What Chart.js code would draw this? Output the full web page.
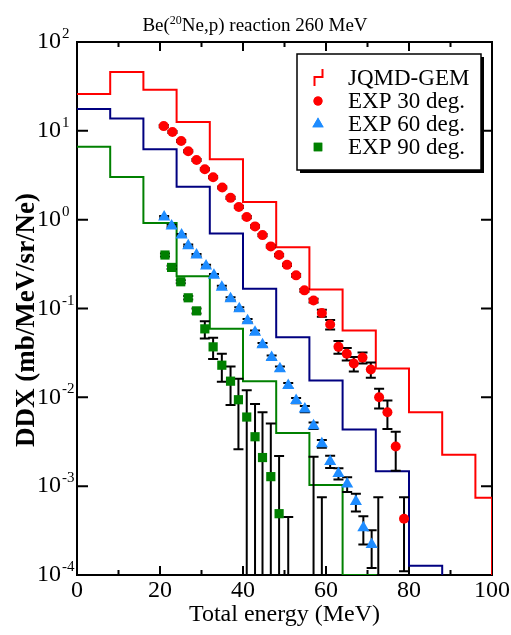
<!DOCTYPE html>
<html>
<head>
<meta charset="utf-8">
<script src="https://cdn.jsdelivr.net/npm/chart.js@4/dist/chart.umd.min.js"></script>
<style>
  body { margin: 0; background: #fff; }
</style>
</head>
<body>
<canvas id="chart" width="511" height="635"></canvas>
<script>
// JQMD-GEM calculation, 8 MeV bins (lower edge of each bin)
const binLo = [0, 8, 16, 24, 32, 40, 48, 56, 64, 72, 80, 88, 96];
const calc30 = [26, 46, 29, 12.6, 4.8, 1.58, 0.49, 0.164, 0.0566, 0.0211, 0.0068, 0.00226, 0.00074];
const calc60 = [17.6, 13.8, 6.2, 2.34, 0.70, 0.167, 0.0476, 0.0155, 0.00434, 0.00147, 0.000127];
const calc90 = [6.6, 3.03, 0.92, 0.23, 0.059, 0.0152, 0.00398, 0.00103, 0.0001];

// measured data: energy, DDX, error
const e30 = [20.9, 23.0, 25.1, 26.8, 28.8, 30.8, 32.8, 35.0, 37.0, 39.0, 40.9, 42.9, 44.7, 46.7, 48.7, 50.6, 52.8, 54.8, 57.0, 59.0, 61.0, 63.0, 65.0, 66.7, 68.8, 70.8, 72.8, 74.8, 76.8, 78.8];
const v30 = [11.3, 9.7, 7.7, 5.9, 4.7, 3.7, 3.0, 2.3, 1.76, 1.39, 1.07, 0.84, 0.67, 0.50, 0.40, 0.31, 0.236, 0.16, 0.123, 0.089, 0.066, 0.037, 0.031, 0.024, 0.028, 0.0206, 0.0100, 0.0068, 0.00279, 0.00043];
const err30 = [0.3, 0.25, 0.2, 0.15, 0.12, 0.1, 0.08, 0.06, 0.05, 0.04, 0.03, 0.025, 0.02, 0.015, 0.012, 0.01, 0.008, 0.006, 0.006, 0.008, 0.008, 0.006, 0.005, 0.0045, 0.004, 0.004, 0.0025, 0.0024, 0.0013, 0.00032];

const e60 = [21.0, 22.8, 25.2, 26.8, 28.8, 31.1, 33.0, 34.9, 37.0, 39.1, 41.1, 42.9, 44.7, 46.9, 48.9, 50.9, 52.8, 54.9, 57.0, 59.0, 61.0, 63.0, 65.1, 67.2, 69.0, 71.0, 72.6];
const v60 = [1.07, 0.85, 0.67, 0.51, 0.40, 0.30, 0.236, 0.174, 0.129, 0.0995, 0.073, 0.054, 0.039, 0.028, 0.021, 0.0136, 0.0092, 0.0074, 0.0048, 0.0030, 0.0019, 0.00139, 0.00106, 0.00067, 0.00034, 0.00022, 0.00005];
const err60 = [0.03, 0.025, 0.02, 0.015, 0.012, 0.01, 0.008, 0.006, 0.005, 0.004, 0.003, 0.0025, 0.002, 0.0015, 0.0012, 0.0009, 0.0006, 0.0006, 0.0004, 0.0003, 0.0003, 0.0002, 0.0002, 0.00015, 0.00012, 0.0001, 0.0007];

const e90 = [21.2, 22.8, 25.0, 26.8, 28.8, 30.8, 32.8, 34.9, 37.0, 38.9, 40.9, 42.9, 44.7, 46.7, 48.7, 50.9, 57.0, 59.0];
const v90 = [0.40, 0.29, 0.20, 0.132, 0.094, 0.059, 0.037, 0.023, 0.0152, 0.0094, 0.0060, 0.0036, 0.0021, 0.00128, 0.00049, 0.00005, 0.00005, 0.00005];
const err90 = [0.015, 0.012, 0.008, 0.006, 0.006, 0.013, 0.010, 0.008, 0.007, 0.0068, 0.0060, 0.0048, 0.0047, 0.0038, 0.0017, 0.0004, 0.0021, 0.0007];

// y tick labels are powers of ten
const yExp = [-4, -3, -2, -1, 0, 1, 2];

const SERIF = "'Liberation Serif', 'Times New Roman', serif";

// build a step histogram, dropping to the floor after the last bin
function hist(vals) {
  const pts = vals.map((v, i) => ({ x: binLo[i], y: v }));
  const end = Math.min(binLo[vals.length - 1] + 8, 100);
  pts.push({ x: end, y: vals[vals.length - 1] });
  pts.push({ x: end, y: 1e-6 });
  return pts;
}

function points(xs, ys) {
  return xs.map((x, i) => ({ x: x, y: ys[i] }));
}

function drawErrors(chart, xs, ys, es) {
  const { ctx, chartArea, scales } = chart;
  ctx.save();
  ctx.beginPath();
  ctx.rect(chartArea.left, chartArea.top, chartArea.width, chartArea.height);
  ctx.clip();
  ctx.strokeStyle = '#000';
  ctx.lineWidth = 2;
  xs.forEach((e, i) => {
    const px = scales.x.getPixelForValue(e);
    const hi = scales.y.getPixelForValue(ys[i] + es[i]);
    const low = ys[i] - es[i];
    const lo = low > 0 ? scales.y.getPixelForValue(low) : chartArea.bottom + 5;
    ctx.beginPath();
    ctx.moveTo(px, hi); ctx.lineTo(px, lo);
    ctx.moveTo(px - 5, hi); ctx.lineTo(px + 5, hi);
    if (low > 0) { ctx.moveTo(px - 5, lo); ctx.lineTo(px + 5, lo); }
    ctx.stroke();
  });
  ctx.restore();
}

const extras = {
  id: 'extras',
  beforeDatasetsDraw(chart) {
    const { ctx, chartArea: a, scales } = chart;
    ctx.save();
    // frame, drawn first so the histograms sit on top of it
    ctx.strokeStyle = '#000';
    ctx.lineWidth = 2;
    ctx.strokeRect(a.left, a.top, a.width, a.height);
    // x ticks, inward, top and bottom
    ctx.beginPath();
    for (let v = 0; v <= 100; v += 10) {
      const px = scales.x.getPixelForValue(v);
      const len = v % 20 === 0 ? 9 : 5;
      ctx.moveTo(px, a.bottom); ctx.lineTo(px, a.bottom - len);
      ctx.moveTo(px, a.top); ctx.lineTo(px, a.top + len);
    }
    // y ticks at decades
    yExp.forEach(p => {
      const py = scales.y.getPixelForValue(Math.pow(10, p));
      ctx.moveTo(a.left, py); ctx.lineTo(a.left + 11, py);
      ctx.moveTo(a.right, py); ctx.lineTo(a.right - 11, py);
    });
    ctx.stroke();
    ctx.restore();
  },
  beforeDatasetDraw(chart, args) {
    // error bars go under the markers
    if (args.index === 2) {
      drawErrors(chart, e30, v30, err30);
      drawErrors(chart, e60, v60, err60);
      drawErrors(chart, e90, v90, err90);
    }
  },
  afterDraw(chart) {
    const { ctx, scales } = chart;
    ctx.save();
    // y tick labels 10^n
    ctx.fillStyle = '#000';
    yExp.forEach(p => {
      const py = scales.y.getPixelForValue(Math.pow(10, p));
      ctx.font = '24px ' + SERIF;
      ctx.textAlign = 'left';
      ctx.textBaseline = 'middle';
      ctx.fillText('10', 37, py);
      const w = ctx.measureText('10').width;
      ctx.font = '15px ' + SERIF;
      ctx.textBaseline = 'alphabetic';
      ctx.fillText(String(p), 37 + w + 1, py - 4);
    });

    // y axis title
    ctx.save();
    ctx.translate(27, 320);
    ctx.rotate(-Math.PI / 2);
    ctx.font = 'bold 27px ' + SERIF;
    ctx.textAlign = 'center';
    ctx.textBaseline = 'middle';
    ctx.fillText('DDX (mb/MeV/sr/Ne)', 0, 0);
    ctx.restore();

    // title with superscript mass number
    const parts = [['Be(', 19, 0], ['20', 12, -7], ['Ne,p) reaction 260 MeV', 19, 0]];
    let total = 0;
    parts.forEach(pt => { ctx.font = pt[1] + 'px ' + SERIF; total += ctx.measureText(pt[0]).width; });
    let tx = 255 - total / 2;
    ctx.textAlign = 'left';
    ctx.textBaseline = 'alphabetic';
    parts.forEach(pt => {
      ctx.font = pt[1] + 'px ' + SERIF;
      ctx.fillText(pt[0], tx, 31 + pt[2]);
      tx += ctx.measureText(pt[0]).width;
    });

    // legend box with shadow
    const bx = 297, by = 54, bw = 184, bh = 116;
    ctx.fillStyle = '#000';
    ctx.fillRect(bx + 3, by + 3, bw, bh);
    ctx.fillStyle = '#fff';
    ctx.fillRect(bx, by, bw, bh);
    ctx.lineWidth = 1.5;
    ctx.strokeStyle = '#000';
    ctx.strokeRect(bx, by, bw, bh);

    const rows = [78, 101, 124, 147];
    const ds = chart.data.datasets;
    const order = [3, 0, 1, 2];
    ctx.font = '23px ' + SERIF;
    ctx.textBaseline = 'middle';
    order.forEach((di, r) => {
      ctx.fillStyle = '#000';
      ctx.fillText(ds[di].label, 348, rows[r] + 1);
    });
    // step symbol
    ctx.strokeStyle = '#ff0000';
    ctx.lineWidth = 2;
    ctx.beginPath();
    ctx.moveTo(314.5, 86); ctx.lineTo(314.5, 77); ctx.lineTo(322.5, 77); ctx.lineTo(322.5, 69);
    ctx.stroke();
    // marker symbols
    [0, 1, 2].forEach((di, r) => {
      const d = ds[di];
      ctx.fillStyle = d.backgroundColor;
      Chart.helpers.drawPoint(ctx, { pointStyle: d.pointStyle, radius: d.pointRadius - 0.5, borderWidth: 0 }, 318, rows[r + 1]);
      ctx.fill();
    });
    ctx.restore();
  }
};

const scatterBase = { type: 'scatter', showLine: false, clip: 0, borderWidth: 0 };

new Chart(document.getElementById('chart').getContext('2d'), {
  type: 'line',
  data: {
    datasets: [
      Object.assign({ label: 'EXP 30 deg.', data: points(e30, v30), pointStyle: 'circle', pointRadius: 5,
        backgroundColor: '#ff0000', borderColor: '#ff0000' }, scatterBase),
      Object.assign({ label: 'EXP 60 deg.', data: points(e60, v60), pointStyle: 'triangle', pointRadius: 7,
        backgroundColor: '#1e8cff', borderColor: '#1e8cff' }, scatterBase),
      Object.assign({ label: 'EXP 90 deg.', data: points(e90, v90), pointStyle: 'rect', pointRadius: 6.5,
        backgroundColor: '#008000', borderColor: '#008000' }, scatterBase),
      { label: 'JQMD-GEM', data: hist(calc30), borderColor: '#ff0000', borderWidth: 2, stepped: 'before', pointRadius: 0, fill: false },
      { label: 'JQMD-GEM 60', data: hist(calc60), borderColor: '#000080', borderWidth: 2, stepped: 'before', pointRadius: 0, fill: false },
      { label: 'JQMD-GEM 90', data: hist(calc90), borderColor: '#008000', borderWidth: 2, stepped: 'before', pointRadius: 0, fill: false }
    ]
  },
  options: {
    responsive: false,
    animation: false,
    layout: { padding: { top: 42, right: 19, left: 0, bottom: 0 } },
    plugins: { legend: { display: false }, tooltip: { enabled: false } },
    scales: {
      x: {
        type: 'linear', min: 0, max: 100,
        grid: { display: false, drawTicks: false },
        border: { display: false },
        ticks: { stepSize: 20, autoSkip: false, maxRotation: 0, padding: 1, color: '#000',
          font: { family: SERIF, size: 24 } },
        title: { display: true, text: 'Total energy (MeV)', color: '#000',
          font: { family: SERIF, size: 24 }, padding: { top: 0, bottom: 6 } },
        afterFit: s => { s.height = 60; }
      },
      y: {
        type: 'logarithmic', min: 1e-4, max: 100,
        grid: { display: false, drawTicks: false },
        border: { display: false },
        ticks: { display: false },
        afterFit: s => { s.width = 77; }
      }
    }
  },
  plugins: [extras]
});
</script>
</body>
</html>
